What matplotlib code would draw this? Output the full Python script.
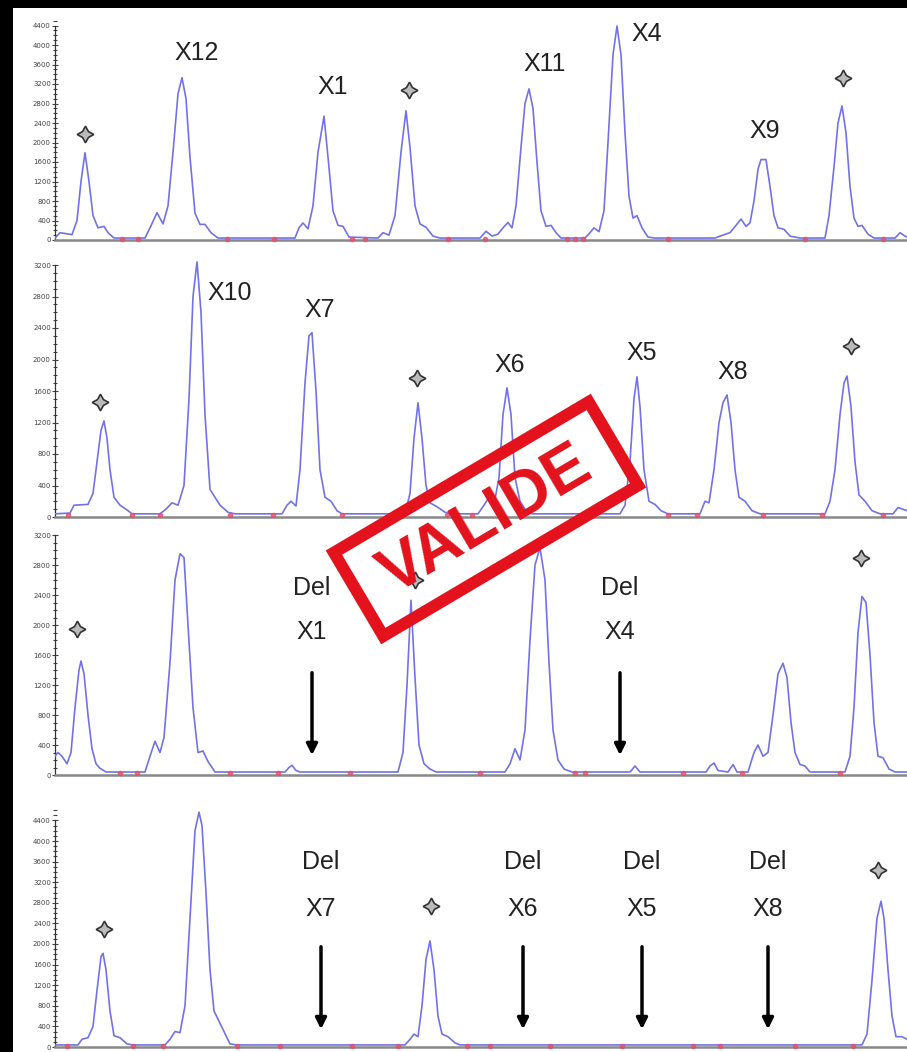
import matplotlib
matplotlib.use("Agg")
import matplotlib.pyplot as plt
from matplotlib.patches import Rectangle
from matplotlib.ticker import MultipleLocator

W, H = 907, 1052

### DATA (x = scan position, y = fluorescence units) ###
trace1 = [(55, 40), (60, 150), (66, 130), (72, 110), (77, 400), (81, 1200), (85, 1790), (89, 1200), (93, 500),
          (98, 250), (104, 280), (108, 150), (114, 40),
          (145, 40), (150, 250), (157, 560), (163, 330), (168, 700), (173, 1800), (178, 3000), (182, 3330),
          (186, 2900), (190, 1700), (195, 550), (200, 320), (205, 320), (211, 150), (218, 40),
          (295, 40), (299, 250), (303, 350), (308, 230), (313, 700), (318, 1800), (324, 2540), (328, 1700),
          (333, 600), (338, 300), (343, 280), (349, 60),
          (378, 40), (383, 150), (389, 100), (395, 500), (401, 1800), (406, 2650), (410, 1900), (415, 700),
          (420, 330), (426, 260), (433, 80), (440, 40),
          (480, 40), (486, 180), (492, 80), (498, 120), (503, 250), (508, 360), (512, 250), (516, 700),
          (521, 1900), (525, 2800), (529, 3100), (533, 2700), (537, 1600), (541, 600), (546, 280), (551, 300),
          (556, 150), (561, 40),
          (585, 40), (590, 150), (594, 250), (599, 170), (604, 600), (608, 2000), (613, 3800), (617, 4390),
          (621, 3800), (625, 2200), (629, 900), (633, 450), (637, 500), (642, 250), (648, 60), (655, 40),
          (715, 40), (720, 80), (730, 150), (736, 300), (741, 430), (746, 280), (750, 350), (754, 800),
          (758, 1450), (761, 1650), (766, 1650), (770, 1100), (774, 500), (778, 250), (784, 220), (790, 80),
          (800, 40),
          (825, 40), (829, 500), (834, 1500), (838, 2400), (842, 2750), (846, 2200), (850, 1100), (854, 450),
          (858, 280), (862, 300), (868, 120), (874, 40), (895, 40), (900, 150), (905, 80), (907, 60)]

trace2 = [(55, 40), (70, 50), (74, 150), (88, 160), (93, 300), (97, 700), (101, 1100), (104, 1220), (107, 1000),
          (110, 600), (114, 250), (120, 150), (127, 90), (132, 40),
          (160, 40), (166, 100), (172, 180), (178, 150), (184, 400), (189, 1500), (193, 2800), (197, 3240),
          (201, 2600), (205, 1300), (210, 350), (215, 250), (220, 150), (228, 60), (235, 40),
          (282, 40), (287, 150), (291, 200), (296, 140), (300, 600), (305, 1700), (309, 2300), (312, 2340),
          (316, 1600), (320, 600), (325, 250), (331, 200), (337, 80), (342, 40),
          (405, 40), (410, 300), (414, 1000), (418, 1450), (422, 1000), (426, 400), (430, 180), (437, 130),
          (445, 60), (452, 40),
          (478, 40), (484, 150), (489, 250), (494, 160), (499, 500), (503, 1300), (507, 1640), (511, 1300),
          (515, 500), (520, 200), (526, 80), (532, 40),
          (620, 40), (625, 150), (630, 700), (634, 1500), (637, 1780), (640, 1400), (644, 600), (649, 200),
          (655, 160), (661, 80), (668, 40),
          (700, 40), (705, 200), (709, 180), (714, 600), (719, 1200), (723, 1450), (727, 1550), (731, 1200),
          (735, 600), (739, 250), (745, 200), (752, 80), (760, 40),
          (825, 40), (830, 200), (835, 600), (840, 1300), (844, 1700), (847, 1790), (851, 1400), (855, 700),
          (859, 280), (865, 200), (872, 80), (880, 40), (893, 40), (898, 120), (907, 80)]

trace3 = [(55, 250), (58, 300), (62, 250), (67, 150), (71, 300), (75, 900), (79, 1400), (81, 1520), (84, 1350),
          (88, 800), (92, 350), (96, 150), (100, 90), (106, 40),
          (145, 40), (150, 250), (155, 450), (160, 300), (164, 500), (170, 1500), (175, 2600), (180, 2950),
          (184, 2900), (188, 2000), (193, 900), (198, 300), (203, 320), (208, 180), (215, 40),
          (285, 40), (289, 100), (292, 130), (296, 60), (300, 40),
          (398, 40), (403, 300), (407, 1200), (411, 2330), (415, 1300), (419, 400), (424, 150), (430, 80),
          (436, 40),
          (505, 40), (510, 150), (515, 350), (520, 200), (525, 600), (530, 1800), (535, 2800), (540, 3030),
          (545, 2600), (549, 1500), (553, 600), (558, 200), (564, 80), (572, 40),
          (630, 40), (635, 120), (640, 40), (706, 40), (710, 120), (714, 160), (718, 60), (728, 40), (733, 140),
          (737, 40), (748, 40), (754, 300), (758, 400), (763, 250), (768, 300), (773, 800), (778, 1350),
          (783, 1490), (787, 1300), (791, 700), (795, 300), (800, 140), (805, 120), (810, 40),
          (845, 40), (850, 250), (854, 900), (858, 1900), (862, 2380), (866, 2300), (870, 1600), (874, 700),
          (878, 250), (883, 230), (889, 80), (895, 40), (907, 40)]

trace4 = [(55, 40), (78, 40), (82, 150), (88, 180), (93, 400), (97, 1100), (101, 1750), (103, 1820), (106, 1500),
          (110, 700), (114, 220), (120, 180), (127, 60), (133, 40),
          (165, 40), (170, 150), (175, 300), (180, 280), (185, 800), (190, 2500), (195, 4200), (199, 4560),
          (202, 4300), (206, 3000), (210, 1500), (214, 700), (219, 500), (224, 300), (230, 60), (237, 40),
          (405, 40), (410, 150), (414, 250), (418, 200), (422, 800), (426, 1700), (430, 2060), (434, 1500),
          (438, 600), (442, 250), (448, 200), (455, 80), (460, 40),
          (862, 40), (867, 250), (872, 1300), (877, 2500), (881, 2830), (884, 2500), (888, 1500), (892, 600),
          (896, 200), (902, 200), (907, 150)]

# control peaks (star markers)
stars1 = [(85, 2174), (409, 3077), (843, 3323)]
stars2 = [(100, 1460), (417, 1765), (851, 2171)]
stars3 = [(77, 1947), (415, 2600), (861, 2893)]
stars4 = [(104, 2291), (431, 2738), (878, 3437)]

# exon labels
labels1 = [("X12", 197, 3836), ("X1", 333, 3138), ("X11", 545, 3610), ("X4", 647, 4226), ("X9", 765, 2236)]
labels2 = [("X10", 230, 2844), ("X7", 320, 2629), ("X6", 510, 1930), ("X5", 642, 2083), ("X8", 733, 1841)]
# deletions: exon, x, text y ("Del"), text y (exon), arrow tail, arrow tip
dels3 = [("X1", 312, 2493, 1907, 1400, 227), ("X4", 620, 2493, 1907, 1400, 227)]
dels4 = [("X7", 321, 3592, 2680, 2000, 291), ("X6", 523, 3592, 2680, 2000, 291),
         ("X5", 642, 3592, 2680, 2000, 291), ("X8", 768, 3592, 2680, 2000, 291)]

# baseline calling marks
marks1 = [122, 138, 227, 274, 352, 365, 448, 485, 567, 575, 583, 668, 805, 883]
marks2 = [68, 132, 160, 230, 273, 342, 447, 472, 668, 697, 763, 822, 883]
marks3 = [120, 137, 230, 278, 350, 480, 575, 585, 683, 742, 840]
marks4 = [67, 133, 163, 237, 280, 352, 398, 467, 490, 550, 622, 693, 720, 795, 853]

ymax_ticks = [4400, 3200, 3200, 4400]

# panel layout in pixels: baseline row, pixels per 400 units, top row
layout = [(240, 19.5, 18), (517, 31.5, 258), (775, 30.0, 528), (1047, 20.6, 805)]

traces = [trace1, trace2, trace3, trace4]
stars = [stars1, stars2, stars3, stars4]
labels = [labels1, labels2, [], []]
dels = [[], [], dels3, dels4]
marks = [marks1, marks2, marks3, marks4]

fig = plt.figure(figsize=(W / 100, H / 100), dpi=100, facecolor="black")
fig.add_artist(Rectangle((13 / W, 0), 1, 1 - 8 / H, transform=fig.transFigure,
                         facecolor="white", edgecolor="none", zorder=0))

lab_font = dict(family="Liberation Sans", fontsize=18, color="#222222", ha="center", va="center")

for i in range(4):
    base, pp, top = layout[i]
    ax = fig.add_axes([55 / W, 1 - base / H, 1 - 55 / W, (base - top) / H])
    ax.set_facecolor("none")
    ax.set_xlim(55, 907)
    ax.set_ylim(0, (base - top) / pp * 400)

    xs = [p[0] for p in traces[i]]
    ys = [p[1] for p in traces[i]]
    ax.plot(xs, ys, color="#7272e6", lw=1.2, zorder=3)

    ax.plot(marks[i], [25] * len(marks[i]), ls="none", marker="o", ms=3,
            color="#e2506c", alpha=0.8, zorder=4, clip_on=False)

    sx = [s[0] for s in stars[i]]
    sy = [s[1] for s in stars[i]]
    ax.plot(sx, sy, ls="none", marker=(4, 1, 0), ms=12, mfc="#bbbbbb", mec="#333333", mew=1.2, zorder=5)

    for name, x, y in labels[i]:
        ax.text(x, y, name, **lab_font)

    for name, x, y_del, y_ex, tail, tip in dels[i]:
        ax.text(x, y_del, "Del", **lab_font)
        ax.text(x, y_ex, name, **lab_font)
        ax.annotate("", xy=(x, tip), xytext=(x, tail),
                    arrowprops=dict(arrowstyle="-|>", lw=2.5, color="black", mutation_scale=16))

    # axes styling
    for s in ["top", "right"]:
        ax.spines[s].set_visible(False)
    ax.spines["bottom"].set_color("#888888")
    ax.spines["bottom"].set_linewidth(1.8)
    ax.spines["left"].set_color("#333333")
    ax.spines["left"].set_linewidth(0.9)
    ax.spines["left"].set_bounds(0, ymax_ticks[i])
    ax.set_xticks([])
    ax.yaxis.set_major_locator(MultipleLocator(400))
    ax.yaxis.set_minor_locator(MultipleLocator(100))
    ax.set_yticks(range(0, ymax_ticks[i] + 1, 400))
    ax.tick_params(axis="y", which="major", direction="inout", length=4, width=0.8,
                   labelsize=5, colors="#444444", pad=1)
    ax.tick_params(axis="y", which="minor", direction="inout", length=2.5, width=0.8, colors="#444444")

# VALIDE stamp over everything
ov = fig.add_axes([0, 0, 1, 1], zorder=10)
ov.set_xlim(0, W)
ov.set_ylim(H, 0)
ov.axis("off")
ov.patch.set_alpha(0)
cx, cy, bw, bh = 486, 519, 296, 97
ov.add_patch(Rectangle((cx - bw / 2, cy - bh / 2), bw, bh, angle=-30.6, rotation_point="center",
                       facecolor="none", edgecolor="#e3121c", lw=8.6))
ov.text(486, 521, "VALIDE", family="Liberation Sans", fontweight="bold", fontsize=47, color="#e3121c",
        rotation=30.6, rotation_mode="anchor", ha="center", va="center")

plt.savefig("out.png", dpi=100, facecolor=fig.get_facecolor())
plt.close()
